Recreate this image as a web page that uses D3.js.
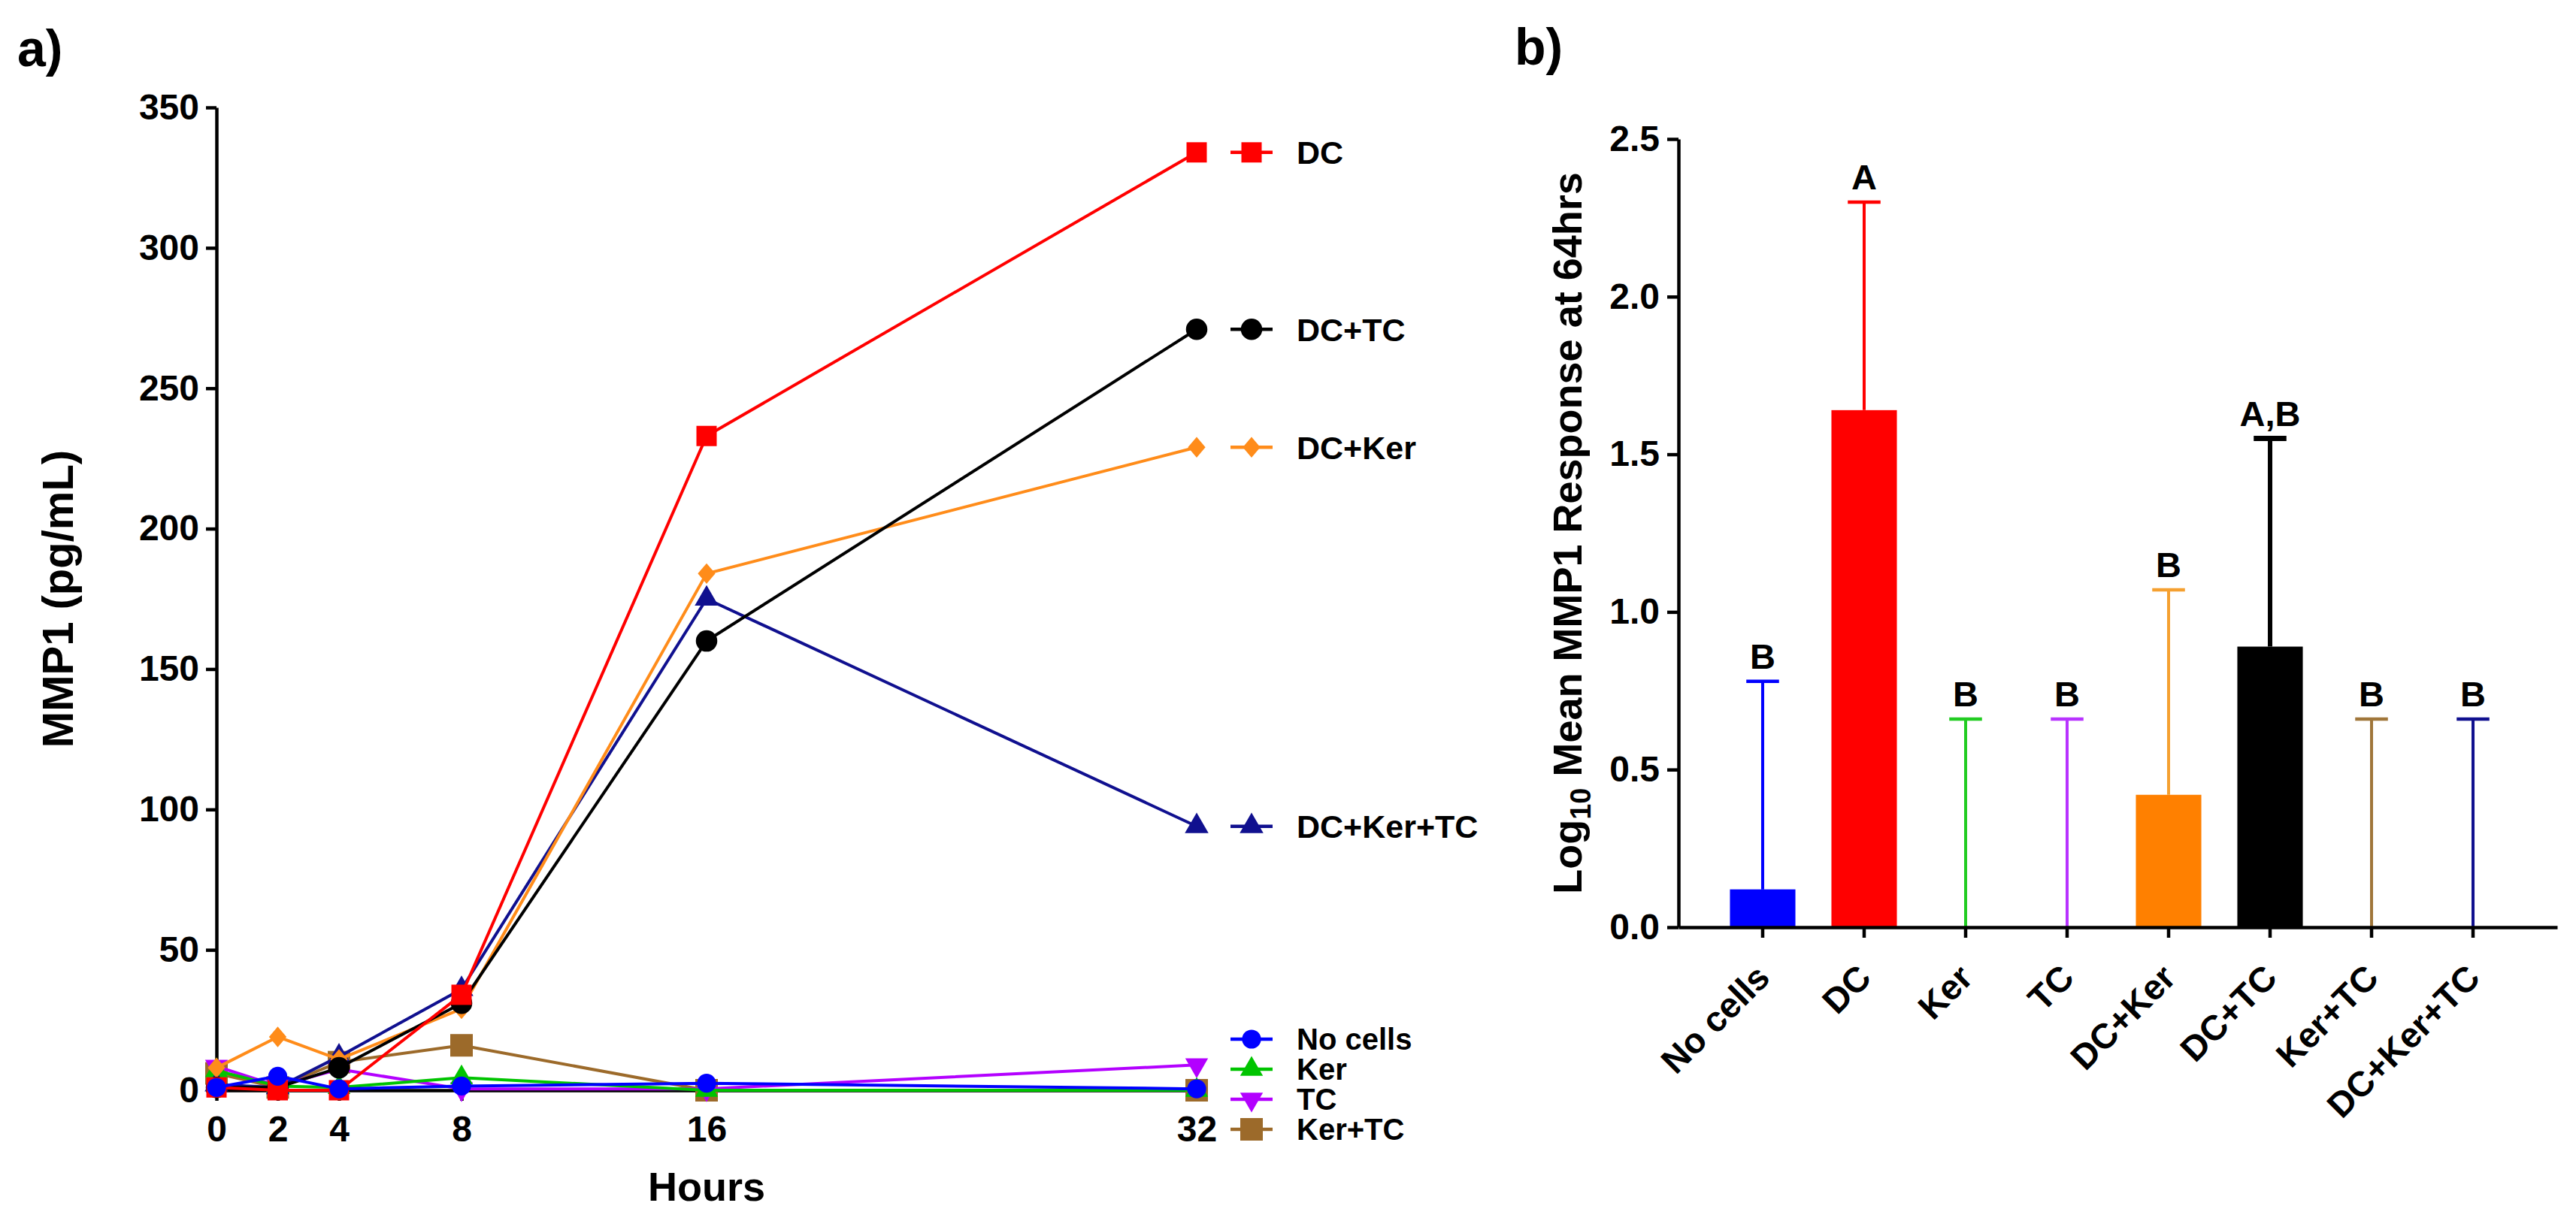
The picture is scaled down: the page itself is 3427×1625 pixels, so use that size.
<!DOCTYPE html>
<html><head><meta charset="utf-8">
<script src="https://cdn.jsdelivr.net/npm/d3@7"></script>
<style>
body{margin:0;background:#fff}
svg{display:block;background:#fff}
text{font-family:"Liberation Sans",Arial,Helvetica,sans-serif;font-weight:bold;fill:#000}
</style>
</head><body>
<svg id="chart" width="3427" height="1625"></svg>
<script>
// ---------- data ----------
const hours = [0, 2, 4, 8, 16, 32];
const yTicksA = [0, 50, 100, 150, 200, 250, 300, 350];
const seriesNames = ["DC", "DC+TC", "DC+Ker", "DC+Ker+TC", "No cells", "Ker", "TC", "Ker+TC"];
const valsDC       = [1, 0, 0, 34, 233, 334];
const valsDCTC     = [1, 1, 8, 31, 160, 271];
const valsDCKer    = [8, 19, 11, 29, 184, 229];
const valsDCKerTC  = [2, 1, 12, 36, 175, 94];
const valsNoCells  = [1, 5, 0.5, 1.5, 2.5, 0.5];
const valsKer      = [7, 1.5, 1, 4.5, 0, 0];
const valsTC       = [8.5, 1.5, 7.5, 0.5, 0.5, 9];
const valsKerTC    = [6, 1, 10, 16, 0, 0];

const categories = ["No cells", "DC", "Ker", "TC", "DC+Ker", "DC+TC", "Ker+TC", "DC+Ker+TC"];
const barMeans   = [0.12, 1.64, 0, 0, 0.42, 0.89, 0, 0];
const barErrTop  = [0.78, 2.30, 0.66, 0.66, 1.07, 1.55, 0.66, 0.66];
const sigLetters = ["B", "A", "B", "B", "B", "A,B", "B", "B"];
const yTicksB    = [0, 0.5, 1.0, 1.5, 2.0, 2.5];

// ---------- styles ----------
const diamondWide = {draw(ctx, size){const h = Math.sqrt(size)/2*1.1, w = h*0.85;
  ctx.moveTo(0,-h); ctx.lineTo(w,0); ctx.lineTo(0,h); ctx.lineTo(-w,0); ctx.closePath();}};
const style = {
  "DC":        {color:"#ff0000", sym:d3.symbolSquare,   size:729, rot:0},
  "DC+TC":     {color:"#000000", sym:d3.symbolCircle,   size:640, rot:0},
  "DC+Ker":    {color:"#ff8c1a", sym:diamondWide,       size:620, rot:0},
  "DC+Ker+TC": {color:"#10108f", sym:d3.symbolTriangle, size:430, rot:0},
  "No cells":  {color:"#0000ff", sym:d3.symbolCircle,   size:500, rot:0},
  "Ker":       {color:"#00c400", sym:d3.symbolTriangle, size:400, rot:0},
  "TC":        {color:"#b300ff", sym:d3.symbolTriangle, size:400, rot:180},
  "Ker+TC":    {color:"#9c6a2a", sym:d3.symbolSquare,   size:900, rot:0}
};
const barColors = ["#0000ff", "#ff0000", "#00c400", "#b300ff", "#ff8000", "#000000", "#a0763a", "#10108f"];
const errColors = ["#0000ff", "#ff0000", "#22cc22", "#b833ff", "#f5a030", "#000000", "#a0763a", "#10108f"];

const valuesBySeries = {
  "DC": valsDC, "DC+TC": valsDCTC, "DC+Ker": valsDCKer, "DC+Ker+TC": valsDCKerTC,
  "No cells": valsNoCells, "Ker": valsKer, "TC": valsTC, "Ker+TC": valsKerTC
};
const drawOrder = ["Ker+TC", "TC", "Ker", "DC+Ker+TC", "DC+Ker", "DC+TC", "DC", "No cells"];

const svg = d3.select("#chart");
const AX = 4.5;

function styleAxis(g, fs){
  g.selectAll("path.domain").attr("stroke", "#000").attr("stroke-width", AX);
  g.selectAll(".tick line").attr("stroke", "#000").attr("stroke-width", AX);
  g.selectAll(".tick text").attr("font-size", fs).attr("fill", "#000")
    .attr("font-family", '"Liberation Sans", Arial, sans-serif').attr("font-weight", "bold");
}

// ================= Panel a =================
const xA = d3.scaleLinear().domain([0, 32]).range([288, 1592]);
const yA = d3.scaleLinear().domain([0, 350]).range([1451, 143]);

const gA = svg.append("g");
gA.append("text").attr("x", 23).attr("y", 88).attr("font-size", 68).text("a)");

const xAxisA = gA.append("g").attr("transform", `translate(0,${yA(0)})`)
  .call(d3.axisBottom(xA).tickValues(hours).tickSize(14).tickSizeOuter(0).tickPadding(20).tickFormat(d3.format("d")));
styleAxis(xAxisA, 48);
const yAxisA = gA.append("g").attr("transform", `translate(${xA(0)},0)`)
  .call(d3.axisLeft(yA).tickValues(yTicksA).tickSize(14).tickSizeOuter(0).tickPadding(9).tickFormat(d3.format("d")));
styleAxis(yAxisA, 48);

gA.append("text").attr("transform", `translate(97,${(yA(0)+yA(350))/2}) rotate(-90)`)
  .attr("text-anchor", "middle").attr("font-size", 58).text("MMP1 (pg/mL)");
gA.append("text").attr("x", xA(16)).attr("y", 1598).attr("text-anchor", "middle")
  .attr("font-size", 54).text("Hours");

const line = d3.line().x((d, i) => xA(hours[i])).y(d => yA(d));
const symbolPath = (name) => d3.symbol().type(style[name].sym).size(style[name].size)();

drawOrder.forEach(name => {
  const vals = valuesBySeries[name];
  const st = style[name];
  const g = gA.append("g");
  g.append("path").attr("d", line(vals)).attr("fill", "none")
    .attr("stroke", st.color).attr("stroke-width", 4).attr("stroke-linejoin", "round");
  g.selectAll("path.m").data(vals).join("path").attr("class", "m")
    .attr("d", symbolPath(name))
    .attr("transform", (d, i) => `translate(${xA(hours[i])},${yA(d)}) rotate(${st.rot})`)
    .attr("fill", st.color);
});

// legend
function legendItem(name, y, fs){
  const st = style[name];
  const g = gA.append("g").attr("transform", `translate(1665,${y})`);
  g.append("line").attr("x1", -28).attr("x2", 28).attr("stroke", st.color).attr("stroke-width", 4.5);
  g.append("path").attr("d", symbolPath(name)).attr("transform", `rotate(${st.rot})`).attr("fill", st.color);
  g.append("text").attr("x", 60).attr("dy", "0.36em").attr("font-size", fs).text(name);
}
["DC", "DC+TC", "DC+Ker", "DC+Ker+TC"].forEach(n => {
  const v = valuesBySeries[n];
  legendItem(n, yA(v[v.length - 1]), 43);
});
["No cells", "Ker", "TC", "Ker+TC"].forEach((n, i) => legendItem(n, 1383 + i * 40, 40));

// ================= Panel b =================
const xB = d3.scaleBand().domain(categories).range([2233, 3402]).paddingInner(0.355).paddingOuter(0.507);
const yB = d3.scaleLinear().domain([0, 2.5]).range([1234, 185]);
const gB = svg.append("g");
gB.append("text").attr("x", 2015).attr("y", 86).attr("font-size", 68).text("b)");

const bw = xB.bandwidth();
gB.selectAll("rect.bar").data(categories).join("rect").attr("class", "bar")
  .attr("x", d => xB(d)).attr("width", bw)
  .attr("y", (d, i) => yB(barMeans[i]))
  .attr("height", (d, i) => yB(0) - yB(barMeans[i]))
  .attr("fill", (d, i) => barColors[i]);

const eg = gB.selectAll("g.err").data(categories).join("g").attr("class", "err");
eg.append("line")
  .attr("x1", d => xB(d) + bw/2).attr("x2", d => xB(d) + bw/2)
  .attr("y1", (d, i) => yB(barMeans[i])).attr("y2", (d, i) => yB(barErrTop[i]))
  .attr("stroke", (d, i) => errColors[i]).attr("stroke-width", (d, i) => i === 5 ? 6 : 4);
eg.append("line")
  .attr("x1", d => xB(d) + bw/2 - bw/4).attr("x2", d => xB(d) + bw/2 + bw/4)
  .attr("y1", (d, i) => yB(barErrTop[i])).attr("y2", (d, i) => yB(barErrTop[i]))
  .attr("stroke", (d, i) => errColors[i]).attr("stroke-width", (d, i) => i === 5 ? 7 : 4.5);
eg.append("text")
  .attr("x", d => xB(d) + bw/2).attr("y", (d, i) => yB(barErrTop[i]) - 17)
  .attr("text-anchor", "middle").attr("font-size", 47).text((d, i) => sigLetters[i]);

const xAxisB = gB.append("g").attr("transform", `translate(0,${yB(0)})`)
  .call(d3.axisBottom(xB).tickSize(14).tickSizeOuter(0).tickFormat(""));
styleAxis(xAxisB, 47);
const yAxisB = gB.append("g").attr("transform", `translate(2233,0)`)
  .call(d3.axisLeft(yB).tickValues(yTicksB).tickSize(15).tickSizeOuter(0).tickPadding(10).tickFormat(d3.format(".1f")));
styleAxis(yAxisB, 48);

gB.selectAll("text.cat").data(categories).join("text").attr("class", "cat")
  .attr("transform", d => `translate(${xB(d) + bw/2 + 12},${yB(0) + 70}) rotate(-45)`)
  .attr("text-anchor", "end").attr("font-size", 47).text(d => d);

const yl = gB.append("text").attr("transform", `translate(2104,${(yB(0)+yB(2.5))/2}) rotate(-90)`)
  .attr("text-anchor", "middle").attr("font-size", 54);
yl.append("tspan").text("Log");
yl.append("tspan").attr("font-size", 38).attr("dy", 12).text("10");
yl.append("tspan").attr("dy", -12).text(" Mean MMP1 Response at 64hrs");
</script>
</body></html>
